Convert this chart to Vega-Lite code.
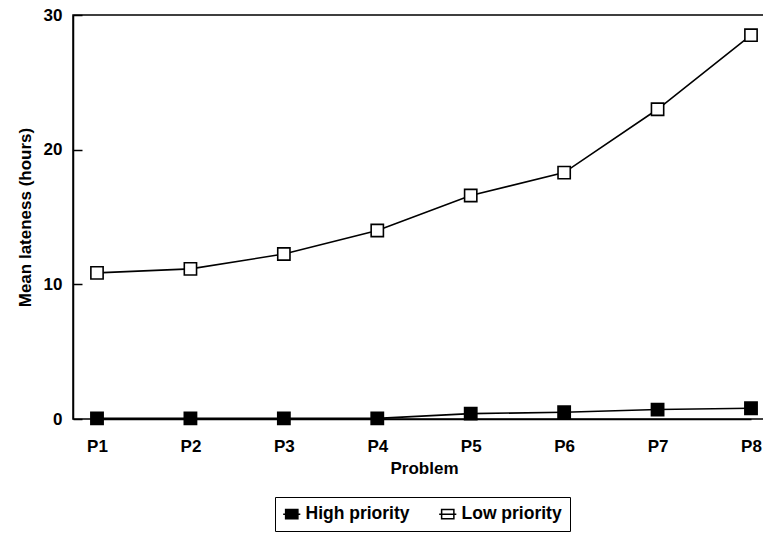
{
  "$schema": "https://vega.github.io/schema/vega-lite/v6.json",
  "width": 691,
  "height": 404,
  "autosize": "none",
  "padding": {"left": 73, "top": 15, "right": 0, "bottom": 120},
  "background": "white",
  "config": {
    "font": "Liberation Sans",
    "view": {"stroke": "black", "strokeWidth": 1.5},
    "axis": {"grid": false, "domainColor": "black", "domainWidth": 1.5, "labelColor": "black", "titleColor": "black", "labelFontSize": 17, "labelFontWeight": "bold", "titleFontSize": 17, "titleFontWeight": "bold", "tickColor": "black"}
  },
  "data": {
    "values": [
      {"problem": "P1", "series": "High priority", "lateness": 0.05},
      {"problem": "P2", "series": "High priority", "lateness": 0.05},
      {"problem": "P3", "series": "High priority", "lateness": 0.05},
      {"problem": "P4", "series": "High priority", "lateness": 0.05},
      {"problem": "P5", "series": "High priority", "lateness": 0.4},
      {"problem": "P6", "series": "High priority", "lateness": 0.5},
      {"problem": "P7", "series": "High priority", "lateness": 0.7},
      {"problem": "P8", "series": "High priority", "lateness": 0.8},
      {"problem": "P1", "series": "Low priority", "lateness": 10.85},
      {"problem": "P2", "series": "Low priority", "lateness": 11.15},
      {"problem": "P3", "series": "Low priority", "lateness": 12.25},
      {"problem": "P4", "series": "Low priority", "lateness": 14.0},
      {"problem": "P5", "series": "Low priority", "lateness": 16.6},
      {"problem": "P6", "series": "Low priority", "lateness": 18.3},
      {"problem": "P7", "series": "Low priority", "lateness": 23.0},
      {"problem": "P8", "series": "Low priority", "lateness": 28.5}
    ]
  },
  "encoding": {
    "x": {
      "field": "problem", "type": "ordinal",
      "scale": {"type": "point", "range": [24, 678], "padding": 0},
      "axis": {"title": "Problem", "labelAngle": 0, "ticks": false, "tickSize": 0, "labelPadding": 19, "titlePadding": 6}
    },
    "y": {
      "field": "lateness", "type": "quantitative",
      "scale": {"domain": [0, 30], "nice": false},
      "axis": {"title": "Mean lateness (hours)", "values": [0, 10, 20, 30], "tickSize": -9, "tickWidth": 1.5, "labelPadding": 20, "titlePadding": 9}
    }
  },
  "layer": [
    {
      "mark": {"type": "line", "color": "black", "strokeWidth": 1.6},
      "encoding": {"detail": {"field": "series"}}
    },
    {
      "mark": {"type": "point", "shape": "square", "stroke": "black", "strokeWidth": 1.6, "opacity": 1},
      "encoding": {
        "fill": {
          "field": "series", "type": "nominal",
          "scale": {"domain": ["High priority", "Low priority"], "range": ["black", "white"]},
          "legend": {
            "title": null, "orient": "none", "legendX": 202, "legendY": 482, "direction": "horizontal",
            "strokeColor": "black", "padding": 8, "labelFontSize": 17.5, "labelFontWeight": "bold", "labelColor": "black", "labelOffset": 5,
            "symbolType": "M-1,-0.75H1V0.75H-1Z M-1.4,0H1.4", "symbolStrokeColor": "black", "symbolStrokeWidth": 1.5, "symbolSize": 150, "columnPadding": 26, "symbolOpacity": 1
          }
        },
        "size": {"value": 150}
      }
    }
  ]
}
